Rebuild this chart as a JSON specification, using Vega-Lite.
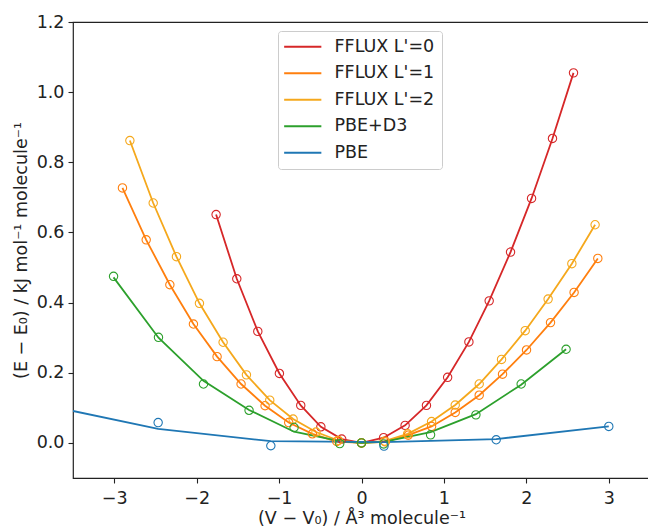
{
  "$schema": "https://vega.github.io/schema/vega-lite/v6.json",
  "width": 577,
  "height": 456,
  "autosize": {"type": "none"},
  "padding": {"left": 73, "top": 22, "right": 0, "bottom": 50},
  "background": "white",
  "config": {
    "font": "DejaVu Sans",
    "view": {"stroke": "#222222", "strokeWidth": 1.2},
    "axis": {
      "domain": false, "grid": false,
      "tickColor": "#222222", "tickSize": 5, "tickWidth": 1.1,
      "labelFont": "DejaVu Sans", "labelFontSize": 17.5, "labelColor": "#222222",
      "titleFont": "DejaVu Sans", "titleFontSize": 17.5, "titleFontWeight": "normal", "titleColor": "#222222"
    }
  },
  "data": {
    "values": [
      {"s": "FFLUX L'=0", "x": -1.764, "y": 0.651, "f": 0.651},
      {"s": "FFLUX L'=0", "x": -1.513, "y": 0.468, "f": 0.468},
      {"s": "FFLUX L'=0", "x": -1.258, "y": 0.318, "f": 0.318},
      {"s": "FFLUX L'=0", "x": -0.996, "y": 0.198, "f": 0.198},
      {"s": "FFLUX L'=0", "x": -0.737, "y": 0.107, "f": 0.107},
      {"s": "FFLUX L'=0", "x": -0.493, "y": 0.046, "f": 0.046},
      {"s": "FFLUX L'=0", "x": -0.24, "y": 0.011, "f": 0.011},
      {"s": "FFLUX L'=0", "x": 0, "y": 0, "f": 0},
      {"s": "FFLUX L'=0", "x": 0.268, "y": 0.015, "f": 0.015},
      {"s": "FFLUX L'=0", "x": 0.529, "y": 0.05, "f": 0.05},
      {"s": "FFLUX L'=0", "x": 0.788, "y": 0.107, "f": 0.107},
      {"s": "FFLUX L'=0", "x": 1.045, "y": 0.187, "f": 0.187},
      {"s": "FFLUX L'=0", "x": 1.303, "y": 0.288, "f": 0.288},
      {"s": "FFLUX L'=0", "x": 1.549, "y": 0.405, "f": 0.405},
      {"s": "FFLUX L'=0", "x": 1.808, "y": 0.544, "f": 0.544},
      {"s": "FFLUX L'=0", "x": 2.063, "y": 0.697, "f": 0.697},
      {"s": "FFLUX L'=0", "x": 2.317, "y": 0.868, "f": 0.868},
      {"s": "FFLUX L'=0", "x": 2.572, "y": 1.055, "f": 1.055},

      {"s": "FFLUX L'=1", "x": -2.9, "y": 0.727, "f": 0.727},
      {"s": "FFLUX L'=1", "x": -2.612, "y": 0.579, "f": 0.579},
      {"s": "FFLUX L'=1", "x": -2.325, "y": 0.451, "f": 0.451},
      {"s": "FFLUX L'=1", "x": -2.039, "y": 0.339, "f": 0.339},
      {"s": "FFLUX L'=1", "x": -1.752, "y": 0.246, "f": 0.246},
      {"s": "FFLUX L'=1", "x": -1.461, "y": 0.168, "f": 0.168},
      {"s": "FFLUX L'=1", "x": -1.17, "y": 0.106, "f": 0.106},
      {"s": "FFLUX L'=1", "x": -0.883, "y": 0.058, "f": 0.058},
      {"s": "FFLUX L'=1", "x": -0.596, "y": 0.026, "f": 0.026},
      {"s": "FFLUX L'=1", "x": -0.3, "y": 0.004, "f": 0.004},
      {"s": "FFLUX L'=1", "x": 0, "y": 0, "f": 0},
      {"s": "FFLUX L'=1", "x": 0.29, "y": 0.003, "f": 0.003},
      {"s": "FFLUX L'=1", "x": 0.567, "y": 0.022, "f": 0.022},
      {"s": "FFLUX L'=1", "x": 0.85, "y": 0.047, "f": 0.047},
      {"s": "FFLUX L'=1", "x": 1.137, "y": 0.087, "f": 0.087},
      {"s": "FFLUX L'=1", "x": 1.428, "y": 0.136, "f": 0.136},
      {"s": "FFLUX L'=1", "x": 1.711, "y": 0.196, "f": 0.196},
      {"s": "FFLUX L'=1", "x": 2.002, "y": 0.265, "f": 0.265},
      {"s": "FFLUX L'=1", "x": 2.293, "y": 0.343, "f": 0.343},
      {"s": "FFLUX L'=1", "x": 2.579, "y": 0.429, "f": 0.429},
      {"s": "FFLUX L'=1", "x": 2.867, "y": 0.526, "f": 0.526},

      {"s": "FFLUX L'=2", "x": -2.81, "y": 0.862, "f": 0.862},
      {"s": "FFLUX L'=2", "x": -2.527, "y": 0.684, "f": 0.684},
      {"s": "FFLUX L'=2", "x": -2.245, "y": 0.531, "f": 0.531},
      {"s": "FFLUX L'=2", "x": -1.966, "y": 0.398, "f": 0.398},
      {"s": "FFLUX L'=2", "x": -1.679, "y": 0.287, "f": 0.287},
      {"s": "FFLUX L'=2", "x": -1.396, "y": 0.194, "f": 0.194},
      {"s": "FFLUX L'=2", "x": -1.113, "y": 0.122, "f": 0.122},
      {"s": "FFLUX L'=2", "x": -0.83, "y": 0.068, "f": 0.068},
      {"s": "FFLUX L'=2", "x": -0.552, "y": 0.031, "f": 0.031},
      {"s": "FFLUX L'=2", "x": -0.28, "y": 0.007, "f": 0.007},
      {"s": "FFLUX L'=2", "x": 0, "y": 0, "f": 0},
      {"s": "FFLUX L'=2", "x": 0.28, "y": 0.005, "f": 0.005},
      {"s": "FFLUX L'=2", "x": 0.56, "y": 0.026, "f": 0.026},
      {"s": "FFLUX L'=2", "x": 0.85, "y": 0.061, "f": 0.061},
      {"s": "FFLUX L'=2", "x": 1.137, "y": 0.108, "f": 0.108},
      {"s": "FFLUX L'=2", "x": 1.428, "y": 0.168, "f": 0.168},
      {"s": "FFLUX L'=2", "x": 1.699, "y": 0.238, "f": 0.238},
      {"s": "FFLUX L'=2", "x": 1.986, "y": 0.32, "f": 0.32},
      {"s": "FFLUX L'=2", "x": 2.264, "y": 0.41, "f": 0.41},
      {"s": "FFLUX L'=2", "x": 2.552, "y": 0.511, "f": 0.511},
      {"s": "FFLUX L'=2", "x": 2.834, "y": 0.622, "f": 0.622},

      {"s": "PBE+D3", "x": -3.008, "y": 0.475, "f": 0.472},
      {"s": "PBE+D3", "x": -2.463, "y": 0.301, "f": 0.3},
      {"s": "PBE+D3", "x": -1.917, "y": 0.168, "f": 0.177},
      {"s": "PBE+D3", "x": -1.364, "y": 0.093, "f": 0.094},
      {"s": "PBE+D3", "x": -0.818, "y": 0.044, "f": 0.032},
      {"s": "PBE+D3", "x": -0.264, "y": -0.002, "f": 0.005},
      {"s": "PBE+D3", "x": 0, "y": 0, "f": 0},
      {"s": "PBE+D3", "x": 0.27, "y": -0.003, "f": 0.003},
      {"s": "PBE+D3", "x": 0.838, "y": 0.023, "f": 0.031},
      {"s": "PBE+D3", "x": 1.388, "y": 0.08, "f": 0.082},
      {"s": "PBE+D3", "x": 1.937, "y": 0.168, "f": 0.166},
      {"s": "PBE+D3", "x": 2.482, "y": 0.267, "f": 0.267},

      {"s": "PBE", "x": -3.5, "y": null, "f": 0.091},
      {"s": "PBE", "x": -2.467, "y": 0.058, "f": 0.04},
      {"s": "PBE", "x": -1.1, "y": -0.008, "f": 0.005},
      {"s": "PBE", "x": 0.273, "y": -0.009, "f": 0.002},
      {"s": "PBE", "x": 1.634, "y": 0.009, "f": 0.011},
      {"s": "PBE", "x": 3.0, "y": 0.047, "f": 0.047}
    ]
  },
  "encoding": {
    "x": {
      "field": "x", "type": "quantitative",
      "scale": {"domain": [-3.5, 3.5], "nice": false, "zero": false},
      "axis": {"values": [-3, -2, -1, 0, 1, 2, 3], "title": "(V − V₀) / Å³ molecule⁻¹", "labelPadding": 6, "titlePadding": 3}
    },
    "color": {
      "field": "s", "type": "nominal",
      "scale": {
        "domain": ["FFLUX L'=0", "FFLUX L'=1", "FFLUX L'=2", "PBE+D3", "PBE"],
        "range": ["#d62728", "#ff7f0e", "#f5a81c", "#2ca02c", "#1f77b4"]
      }
    }
  },
  "layer": [
    {
      "mark": {"type": "line", "strokeWidth": 1.8, "clip": true},
      "encoding": {
        "y": {
          "field": "f", "type": "quantitative",
          "scale": {"domain": [-0.1, 1.2], "nice": false, "zero": false},
          "axis": {"values": [0, 0.2, 0.4, 0.6, 0.8, 1.0, 1.2], "format": ".1f", "title": "(E − E₀) / kJ mol⁻¹ molecule⁻¹", "labelPadding": 4, "titlePadding": 6}
        },
        "order": {"field": "x", "type": "quantitative"},
        "color": {
          "field": "s", "type": "nominal",
          "legend": {
            "orient": "none", "legendX": 205, "legendY": 9,
            "title": null, "symbolType": "M-3.1,0H3.1", "symbolSize": 144, "symbolStrokeWidth": 2,
            "symbolOffset": 9, "labelOffset": 23,
            "labelFont": "DejaVu Sans", "labelFontSize": 17.5, "labelColor": "#222222",
            "rowPadding": 7.5, "padding": 7, "fillColor": "white", "strokeColor": "#cccccc", "cornerRadius": 3
          }
        }
      }
    },
    {
      "mark": {"type": "point", "filled": false, "size": 70, "strokeWidth": 1.1, "opacity": 1, "clip": true},
      "encoding": {
        "y": {"field": "y", "type": "quantitative"},
        "color": {"field": "s", "type": "nominal", "legend": null}
      }
    }
  ]
}
